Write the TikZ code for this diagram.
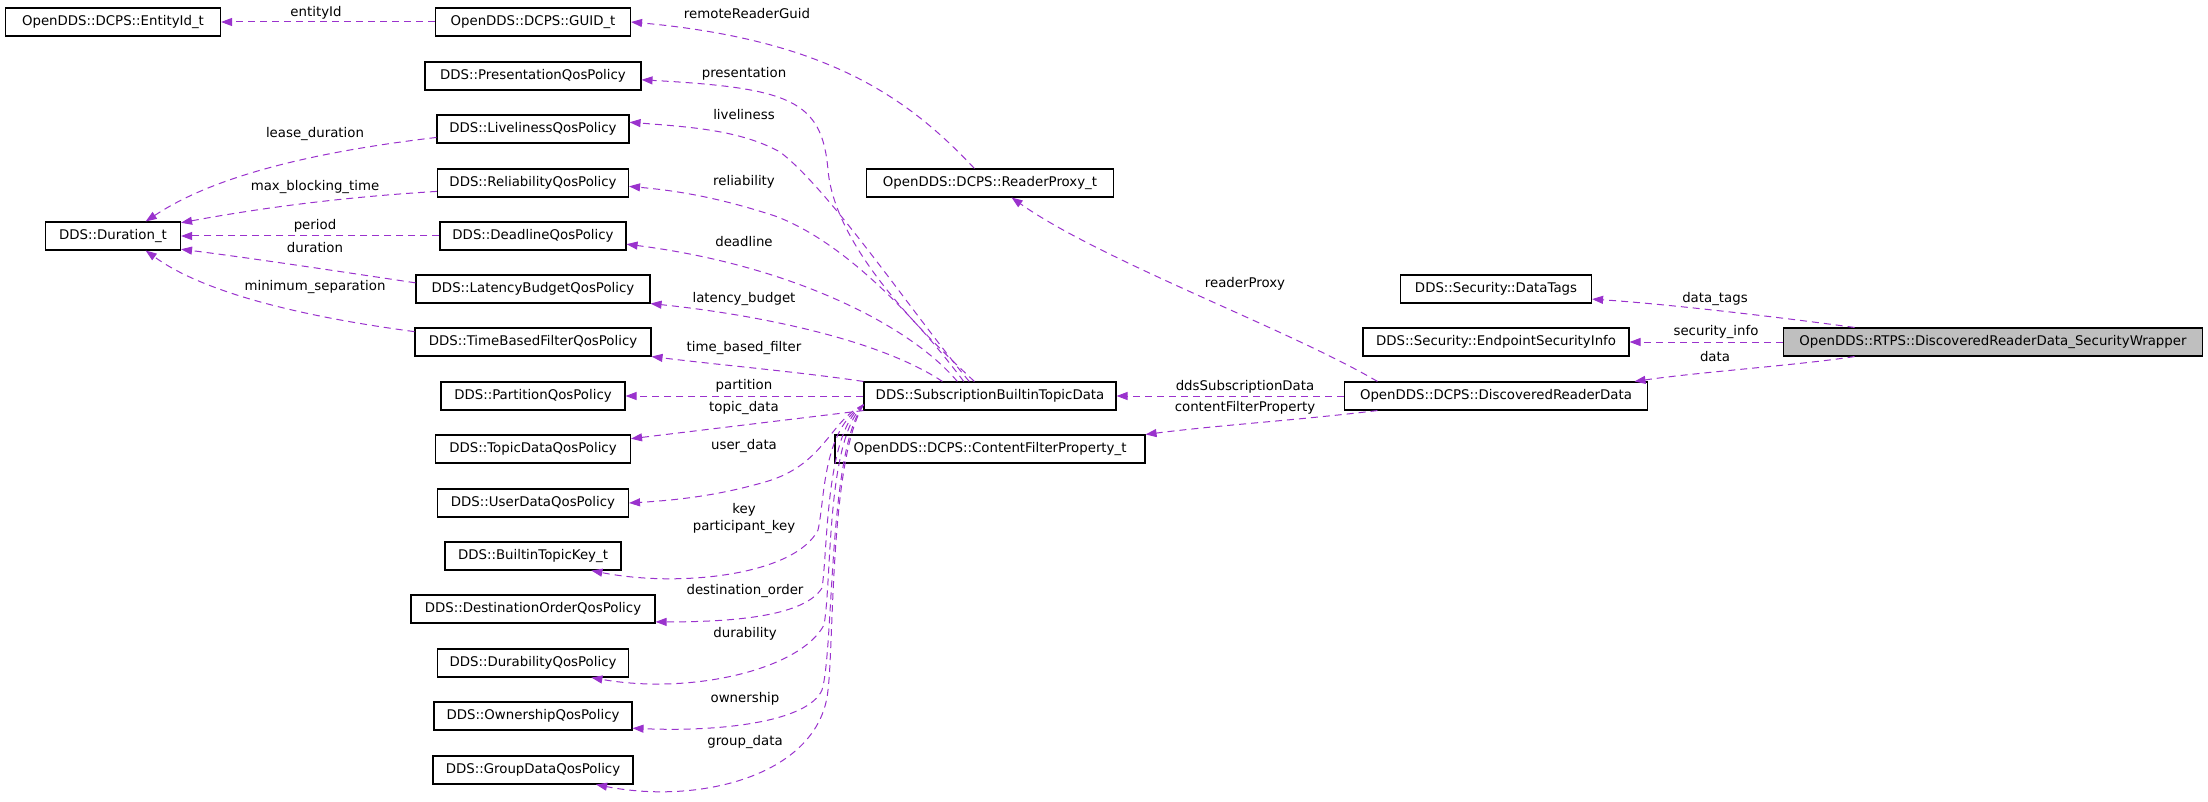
\documentclass[tikz,border=0pt]{standalone}
\usepackage{fontspec}
\setmainfont{DejaVu Sans}
\usepackage{tikz}
\usetikzlibrary{arrows.meta}
\definecolor{edgeclr}{HTML}{9A32CD}
\definecolor{curfill}{HTML}{BFBFBF}

\begin{document}
\begin{tikzpicture}[x=1pt, y=-1pt,
  cls/.style={draw=black, line width=1.1pt, minimum height=28, inner sep=0pt, font=\fontsize{13.33}{17}\selectfont},
  cur/.style={cls, fill=curfill},
  lbl/.style={inner sep=0pt, align=center, font=\fontsize{13.33}{17}\selectfont},
  usage/.style={draw=edgeclr, line width=1pt, dash pattern=on 7pt off 5pt, -{Triangle[length=11pt,width=8pt]}, fill=none}]
\useasboundingbox (0,0) rectangle (2208,802);
\node [cls, minimum width=215] (entityid) at (113,22) {OpenDDS::DCPS::EntityId\_t};
\node [cls, minimum width=195] (guid) at (533,22) {OpenDDS::DCPS::GUID\_t};
\node [cls, minimum width=216] (presentation) at (533,76) {DDS::PresentationQosPolicy};
\node [cls, minimum width=192] (liveliness) at (533,129) {DDS::LivelinessQosPolicy};
\node [cls, minimum width=191] (reliability) at (533,183) {DDS::ReliabilityQosPolicy};
\node [cls, minimum width=186] (deadline) at (533,236) {DDS::DeadlineQosPolicy};
\node [cls, minimum width=135] (duration) at (113,236) {DDS::Duration\_t};
\node [cls, minimum width=234] (latency) at (533,289) {DDS::LatencyBudgetQosPolicy};
\node [cls, minimum width=236] (timebased) at (533,342) {DDS::TimeBasedFilterQosPolicy};
\node [cls, minimum width=184] (partition) at (533,396) {DDS::PartitionQosPolicy};
\node [cls, minimum width=195] (topicdata) at (533,449) {DDS::TopicDataQosPolicy};
\node [cls, minimum width=191] (userdata) at (533,503) {DDS::UserDataQosPolicy};
\node [cls, minimum width=176] (topickey) at (533,556) {DDS::BuiltinTopicKey\_t};
\node [cls, minimum width=244] (destorder) at (533,609) {DDS::DestinationOrderQosPolicy};
\node [cls, minimum width=191] (durability) at (533,663) {DDS::DurabilityQosPolicy};
\node [cls, minimum width=198] (ownership) at (533,716) {DDS::OwnershipQosPolicy};
\node [cls, minimum width=200] (groupdata) at (533,770) {DDS::GroupDataQosPolicy};
\node [cls, minimum width=247] (readerproxy) at (990,183) {OpenDDS::DCPS::ReaderProxy\_t};
\node [cls, minimum width=252] (sbtd) at (990,396) {DDS::SubscriptionBuiltinTopicData};
\node [cls, minimum width=310] (cfp) at (990,449) {OpenDDS::DCPS::ContentFilterProperty\_t};
\node [cls, minimum width=191] (datatags) at (1496,289) {DDS::Security::DataTags};
\node [cls, minimum width=266] (esi) at (1496,342) {DDS::Security::EndpointSecurityInfo};
\node [cls, minimum width=303] (drd) at (1496,396) {OpenDDS::DCPS::DiscoveredReaderData};
\node [cur, minimum width=419] (wrapper) at (1993,342) {OpenDDS::RTPS::DiscoveredReaderData\_SecurityWrapper};

\draw [usage] (guid.west) -- (entityid.east);
\draw [usage] (readerproxy.137) .. controls (910,100) and (830,40) .. (guid.east);
\draw [usage] (drd.173) .. controls (1290,330) and (1100,260) .. (readerproxy.-34);
\draw [usage] (drd.west) -- (sbtd.east);
\draw [usage] (drd.187) .. controls (1300,420) and (1220,425) .. (cfp.north east);
\draw [usage] (wrapper.174) .. controls (1800,320) and (1680,305) .. (datatags.-6);
\draw [usage] (wrapper.west) -- (esi.east);
\draw [usage] (wrapper.186) .. controls (1800,365) and (1700,372) .. (drd.6);

\draw [usage] (sbtd.137) .. controls (930,340) and (835,250) .. (828,170) .. controls (822,100) and (790,88) .. (presentation.-2);
\draw [usage] (sbtd.145) .. controls (910,310) and (830,190) .. (780,152) .. controls (740,130) and (690,127) .. (liveliness.4);
\draw [usage] (sbtd.151) .. controls (910,310) and (840,240) .. (775,216) .. controls (720,198) and (680,191) .. (reliability.-2);
\draw [usage] (sbtd.156) .. controls (910,325) and (790,265) .. (deadline.-5);
\draw [usage] (sbtd.163) .. controls (880,340) and (760,315) .. (latency.south east);
\draw [usage] (sbtd.north west) .. controls (800,372) and (720,365) .. (timebased.south east);
\draw [usage] (sbtd.west) -- (partition.east);
\draw [usage] (sbtd.south west) -- (topicdata.6);
\draw [usage] (sbtd.184) .. controls (830,420) and (825,465) .. (765,482) .. controls (720,495) and (680,500) .. (userdata.east);
\draw [usage] (sbtd.184) .. controls (822,430) and (825,500) .. (818,530) .. controls (795,575) and (680,588) .. (topickey.-14);
\draw [usage] (sbtd.184) .. controls (825,430) and (828,550) .. (822,588) .. controls (805,615) and (740,622) .. (destorder.-6);
\draw [usage] (sbtd.184) .. controls (826,440) and (832,580) .. (824,625) .. controls (800,670) and (690,695) .. (durability.-14);
\draw [usage] (sbtd.184) .. controls (828,450) and (834,650) .. (822,690) .. controls (808,722) and (720,732) .. (ownership.-7);
\draw [usage] (sbtd.184) .. controls (830,460) and (834,640) .. (828,690) .. controls (820,775) and (700,805) .. (groupdata.-13);

\draw [usage] (liveliness.185) .. controls (330,150) and (220,172) .. (duration.24);
\draw [usage] (reliability.185) .. controls (330,198) and (250,210) .. (duration.11);
\draw [usage] (deadline.west) -- (duration.east);
\draw [usage] (latency.177) .. controls (330,270) and (250,258) .. (duration.-11);
\draw [usage] (timebased.175) .. controls (290,315) and (200,290) .. (duration.-24);

\node [lbl] (lentityid) at (316,13) {entityId};
\node [lbl] (lremoteguid) at (747,14) {remoteReaderGuid};
\node [lbl] (lreaderproxy) at (1245,284) {readerProxy};
\node [lbl] (ldds) at (1245,387) {ddsSubscriptionData};
\node [lbl] (lcfp) at (1245,408) {contentFilterProperty};
\node [lbl] (ldatatags) at (1715,299) {data\_tags};
\node [lbl] (lsecinfo) at (1716,332) {security\_info};
\node [lbl] (ldata) at (1715,357) {data};
\node [lbl] (lpresentation) at (744,74) {presentation};
\node [lbl] (lliveliness) at (744,115) {liveliness};
\node [lbl] (lreliability) at (744,182) {reliability};
\node [lbl] (ldeadline) at (744,242) {deadline};
\node [lbl] (llatency) at (744,299) {latency\_budget};
\node [lbl] (ltimebased) at (744,348) {time\_based\_filter};
\node [lbl] (lpartition) at (744,386) {partition};
\node [lbl] (ltopicdata) at (744,408) {topic\_data};
\node [lbl] (luserdata) at (744,446) {user\_data};
\node [lbl] (lkey) at (744,519) {key\\participant\_key};
\node [lbl] (ldestorder) at (745,591) {destination\_order};
\node [lbl] (ldurability) at (745,634) {durability};
\node [lbl] (lownership) at (745,699) {ownership};
\node [lbl] (lgroupdata) at (745,742) {group\_data};
\node [lbl] (llease) at (315,134) {lease\_duration};
\node [lbl] (lmaxblock) at (315,187) {max\_blocking\_time};
\node [lbl] (lperiod) at (315,226) {period};
\node [lbl] (lduration) at (315,248) {duration};
\node [lbl] (lminsep) at (315,287) {minimum\_separation};
\end{tikzpicture}
\end{document}
